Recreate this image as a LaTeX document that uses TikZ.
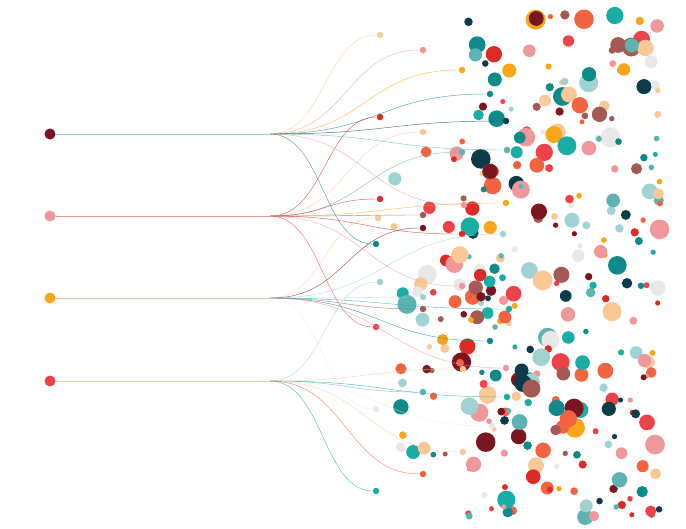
\documentclass[tikz,border=0pt]{standalone}
\usetikzlibrary{positioning}
\definecolor{wine}{HTML}{7B1520}
\definecolor{blush}{HTML}{F0979A}
\definecolor{amber}{HTML}{F9A61A}
\definecolor{coral}{HTML}{EE4249}
\definecolor{teal}{HTML}{1AADA5}
\definecolor{deepteal}{HTML}{0E8A8A}
\definecolor{navy}{HTML}{0B3C4C}
\definecolor{peach}{HTML}{F9C894}
\definecolor{tangerine}{HTML}{F26440}
\definecolor{crimson}{HTML}{DD2A25}
\definecolor{umber}{HTML}{A45A52}
\definecolor{mist}{HTML}{9FD3D3}
\definecolor{smoke}{HTML}{E8E8E8}
\definecolor{sea}{HTML}{5DB3B3}
\colorlet{pal1}{wine}
\colorlet{pal2}{blush}
\colorlet{pal3}{amber}
\colorlet{pal4}{coral}
\colorlet{pal5}{teal}
\colorlet{pal6}{deepteal}
\colorlet{pal7}{navy}
\colorlet{pal8}{peach}
\colorlet{pal9}{tangerine}
\colorlet{pal10}{crimson}
\colorlet{pal11}{umber}
\colorlet{pal12}{mist}
\colorlet{pal13}{smoke}
\colorlet{pal14}{sea}
\tikzset{%
    source/.style={%
        circle, inner sep=0pt, minimum size=11pt
    },
    leaf/.style={%
        circle, inner sep=0pt, minimum size=6.5pt
    },
    link/.style={%
        line width=0.45pt, opacity=0.75
    },
    stem/.style={%
        line width=0.5pt
    },
}
\begin{document}
\begin{tikzpicture}[x=1pt,y=-1pt]
      \useasboundingbox (0,0) rectangle (686,528);
      \pgfmathsetseed{42}
      \foreach \i in {1,...,320} {
        \pgfmathsetmacro\side{rnd}
        \pgfmathsetmacro\cx{\side<0.18 ? 392+80*rnd : 468+192*rnd}
        \pgfmathsetmacro\cy{\side<0.18 ? 120+360*rnd : 12+505*rnd}
        \pgfmathsetmacro\cr{2.5+7.5*pow(rnd,1.6)}
        \pgfmathrandominteger{\ci}{1}{14}
        \fill[pal\ci] (\cx,\cy) circle[radius=\cr];
      }

      \node[source, fill=wine] (s1) at (50,134) {};
      \node[source, fill=blush] (s2) at (50,216) {};
      \node[source, fill=amber] (s3) at (50,298) {};
      \node[source, fill=coral] (s4) at (50,381) {};
      \coordinate (h1) at (270,134);
      \coordinate (h2) at (270,216);
      \coordinate (h3) at (270,298);
      \coordinate (h4) at (270,381);
      \draw[stem, mist] (s1) -- (h1);
      \draw[stem, blush] (s2) -- (h2);
      \draw[stem, blush!70] (s3) -- (h3);
      \draw[stem, peach] (s4) -- (h4);

      \foreach \px/\py/\col/\src [count=\k] in {380/35/peach/1, 423/50/blush/1, 462/70/amber/1,
          490/94/deepteal/1, 380/117/crimson/2, 506/121/navy/1, 423/132/peach/2, 507/150/sea/1,
          462/152/sea/2, 380/199/crimson/2, 464/205/blush/1, 506/203/amber/2, 378/218/peach/3,
          423/215/umber/2, 423/228/wine/3, 462/234/crimson/2, 376/244/deepteal/1, 503/234/mist/3,
          380/282/mist/4, 462/286/blush/2, 423/297/mist/3, 423/309/umber/3, 376/327/coral/2,
          509/309/teal/3, 490/341/deepteal/3, 463/369/peach/4, 506/368/blush/3, 423/392/sea/4,
          507/397/teal/4, 376/409/smoke/3, 492/426/smoke/4, 463/452/peach/4, 423/474/tangerine/4,
          376/491/teal/4} {
        \pgfmathsetmacro\mx{(270+\px)/2}
        \pgfmathsetmacro\yo{134+82.33*(\src-1)}
        \node[leaf, fill=\col] (e\k) at (\px,\py) {};
        \draw[link, \col] (h\src) .. controls (\mx,\yo) and (\mx,\py) .. (e\k);
      }
    \end{tikzpicture}
\end{document}
